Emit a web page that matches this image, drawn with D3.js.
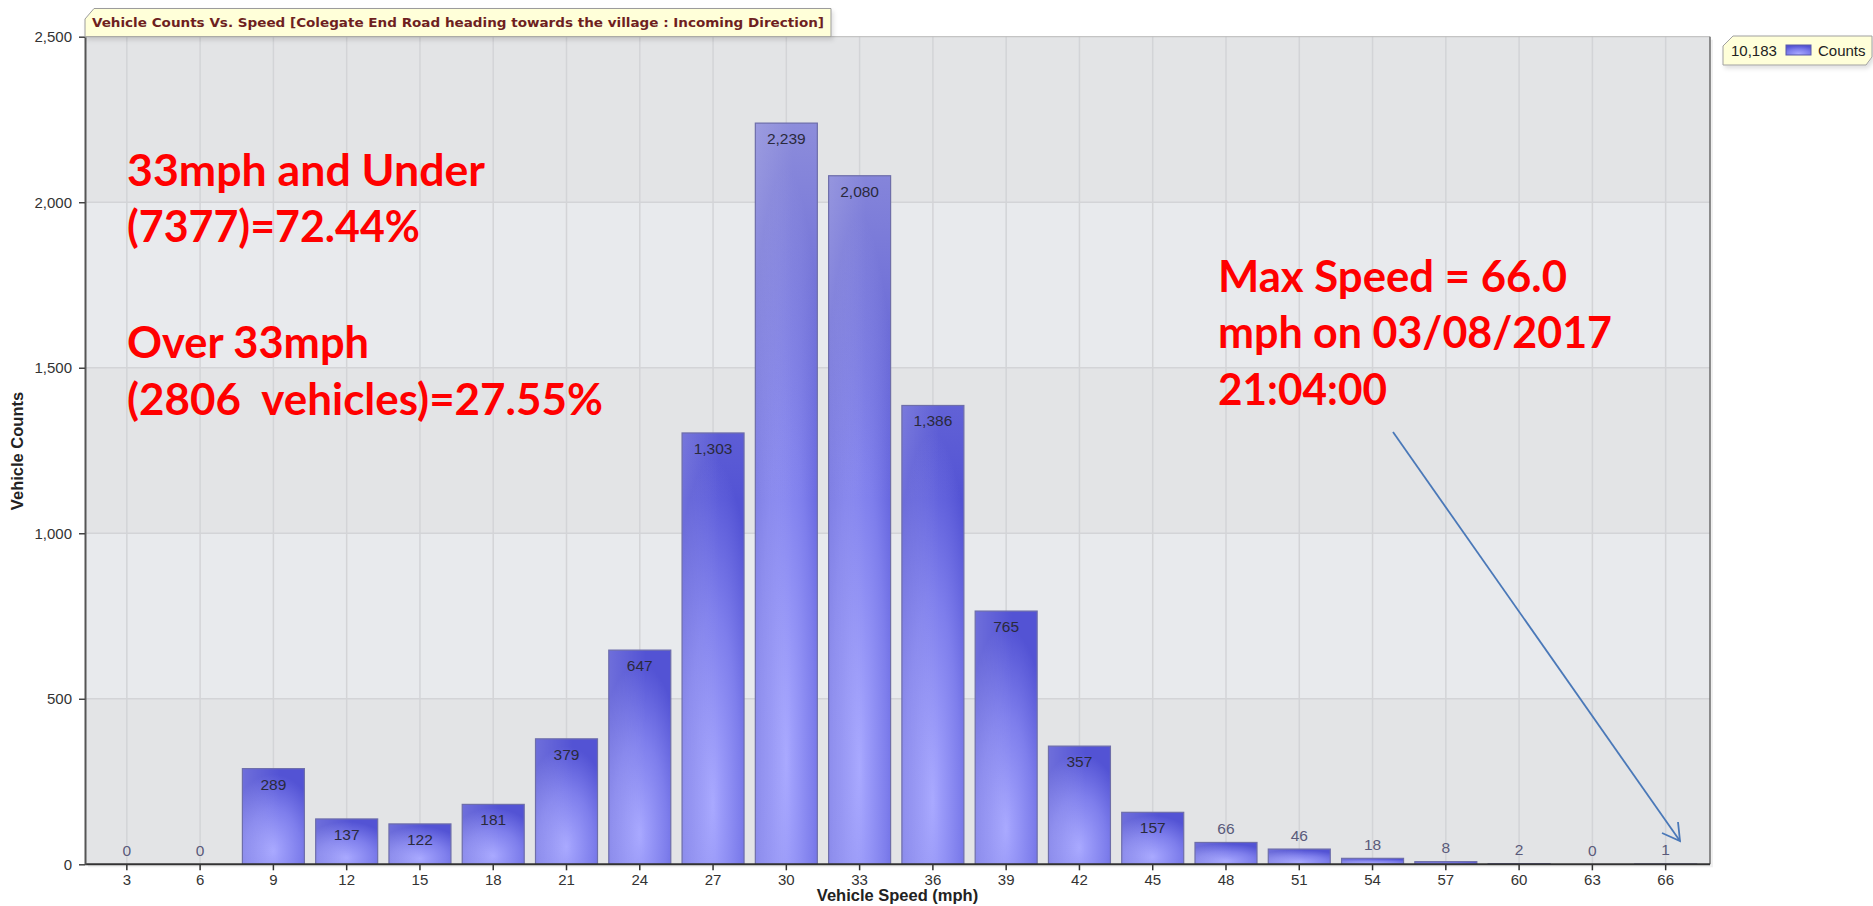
<!DOCTYPE html>
<html>
<head>
<meta charset="utf-8">
<script src="https://cdn.jsdelivr.net/npm/d3@7"></script>
<style>
  html, body { margin: 0; padding: 0; background: #ffffff; }
  svg { display: block; }
  text { white-space: pre; }
</style>
</head>
<body>
<svg id="chart" width="1873" height="906"></svg>
<script>
// ---- data ----
const speeds = [3, 6, 9, 12, 15, 18, 21, 24, 27, 30, 33, 36, 39, 42, 45, 48, 51, 54, 57, 60, 63, 66];
const counts = [0, 0, 289, 137, 122, 181, 379, 647, 1303, 2239, 2080, 1386, 765, 357, 157, 66, 46, 18, 8, 2, 0, 1];
const yTicks = [0, 500, 1000, 1500, 2000, 2500];
const titleText = "Vehicle Counts Vs. Speed [Colegate End Road heading towards the village : Incoming Direction]";
const legendTotal = "10,183";
const legendLabel = "Counts";
const xAxisTitle = "Vehicle Speed (mph)";
const yAxisTitle = "Vehicle Counts";
const noteLeft = ["33mph and Under", "(7377)=72.44%", "", "Over 33mph", "(2806  vehicles)=27.55%"];
const noteRight = ["Max Speed = 66.0", "mph on 03/08/2017", "21:04:00"];

// ---- layout ----
const plot = { left: 85, right: 1710, top: 36.7, bottom: 864.3 };
const svg = d3.select("#chart");
const fmt = d3.format(",");

const x = d3.scaleBand()
  .domain(speeds)
  .range([90.2, 1702.3])
  .paddingInner(0.154)
  .paddingOuter(0.077);
const y = d3.scaleLinear().domain([0, 2500]).range([plot.bottom, plot.top]);

// ---- defs ----
const defs = svg.append("defs");
const rg = defs.append("radialGradient").attr("id", "barGrad")
  .attr("cx", 0.5).attr("cy", 0.86).attr("r", 0.8).attr("fx", 0.5).attr("fy", 0.86);
rg.append("stop").attr("offset", 0).attr("stop-color", "#a7a7ff");
rg.append("stop").attr("offset", 0.55).attr("stop-color", "#7e7eec");
rg.append("stop").attr("offset", 1).attr("stop-color", "#5353d4");

const topGloss = defs.append("linearGradient").attr("id", "topGloss")
  .attr("gradientUnits", "userSpaceOnUse")
  .attr("x1", 0).attr("x2", 0).attr("y1", y(2500)).attr("y2", y(1100));
topGloss.append("stop").attr("offset", 0).attr("stop-color", "#d4d4e4").attr("stop-opacity", 0.55);
topGloss.append("stop").attr("offset", 1).attr("stop-color", "#d4d4e4").attr("stop-opacity", 0);

const leftGloss = defs.append("linearGradient").attr("id", "leftGloss")
  .attr("x1", 0).attr("x2", 1).attr("y1", 0).attr("y2", 0);
leftGloss.append("stop").attr("offset", 0).attr("stop-color", "#ffffff").attr("stop-opacity", 0.16);
leftGloss.append("stop").attr("offset", 0.6).attr("stop-color", "#ffffff").attr("stop-opacity", 0);

const shadow = defs.append("filter").attr("id", "shadow")
  .attr("x", "-5%").attr("y", "-20%").attr("width", "115%").attr("height", "160%");
shadow.append("feDropShadow").attr("dx", 2).attr("dy", 3).attr("stdDeviation", 2)
  .attr("flood-color", "#000").attr("flood-opacity", 0.12);

// ---- plot background ----
svg.append("rect")
  .attr("x", plot.left + 3).attr("y", plot.top + 3)
  .attr("width", plot.right - plot.left).attr("height", plot.bottom - plot.top)
  .attr("fill", "#f0f0f0");

const bands = d3.pairs(yTicks);
svg.append("g").selectAll("rect").data(bands).join("rect")
  .attr("x", plot.left)
  .attr("width", plot.right - plot.left)
  .attr("y", d => y(d[1]))
  .attr("height", d => y(d[0]) - y(d[1]))
  .attr("fill", (d, i) => i % 2 === 0 ? "#e3e4e6" : "#e8eaed");

// grid
const grid = svg.append("g");
grid.selectAll("line.h").data(yTicks.slice(1, -1)).join("line")
  .attr("x1", plot.left).attr("x2", plot.right)
  .attr("y1", d => y(d)).attr("y2", d => y(d))
  .attr("stroke", "#d3d4d7").attr("stroke-width", 1.5);
grid.selectAll("line.v").data(speeds).join("line")
  .attr("y1", plot.top).attr("y2", plot.bottom)
  .attr("x1", d => x(d) + x.bandwidth() / 2).attr("x2", d => x(d) + x.bandwidth() / 2)
  .attr("stroke", "#d3d4d7").attr("stroke-width", 1.5);

// plot frame (top & right)
svg.append("line").attr("x1", plot.left).attr("x2", plot.right).attr("y1", plot.top).attr("y2", plot.top)
  .attr("stroke", "#b8b8b8").attr("stroke-width", 1);
svg.append("line").attr("x1", plot.right).attr("x2", plot.right).attr("y1", plot.top).attr("y2", plot.bottom)
  .attr("stroke", "#6c6c6c").attr("stroke-width", 1.5);

// ---- bars ----
const data = speeds.map((s, i) => ({ s, v: counts[i] }));
const barG = svg.append("g");
const nz = data.filter(d => d.v > 0);
barG.selectAll("rect.bar").data(nz).join("rect")
  .attr("class", "bar")
  .attr("x", d => x(d.s)).attr("width", x.bandwidth())
  .attr("y", d => y(d.v)).attr("height", d => y(0) - y(d.v))
  .attr("fill", "url(#barGrad)");
barG.selectAll("rect.gl").data(nz).join("rect")
  .attr("class", "gl")
  .attr("x", d => x(d.s)).attr("width", x.bandwidth())
  .attr("y", d => y(d.v)).attr("height", d => y(0) - y(d.v))
  .attr("fill", "url(#leftGloss)");
barG.selectAll("rect.tg").data(nz).join("rect")
  .attr("class", "tg")
  .attr("x", d => x(d.s)).attr("width", x.bandwidth())
  .attr("y", d => y(d.v)).attr("height", d => y(0) - y(d.v))
  .attr("fill", "url(#topGloss)")
  .attr("stroke", "#6e6eaa").attr("stroke-width", 1.2);

// value labels
const inside = d => (y(0) - y(d.v)) > 32;
svg.append("g").selectAll("text").data(data).join("text")
  .attr("x", d => x(d.s) + x.bandwidth() / 2)
  .attr("y", d => inside(d) ? y(d.v) + 21 : y(d.v) - 8.5)
  .attr("text-anchor", "middle")
  .attr("font-family", "Liberation Sans, Arial, sans-serif")
  .attr("font-size", 15.5)
  .attr("fill", d => inside(d) ? "#2a2a3c" : "#5a5a7a")
  .text(d => fmt(d.v));

// ---- axes ----
const xAxis = svg.append("g")
  .attr("transform", `translate(0,${plot.bottom})`)
  .call(d3.axisBottom(x).tickSize(6).tickPadding(4).tickSizeOuter(0));
xAxis.select(".domain").attr("d", `M${plot.left},0H${plot.right}`).attr("stroke", "#333").attr("stroke-width", 2);
xAxis.selectAll(".tick line").attr("stroke", "#333").attr("stroke-width", 1.5);
xAxis.selectAll(".tick text").attr("font-family", "Liberation Sans, Arial, sans-serif")
  .attr("font-size", 15).attr("fill", "#333");

const yAxis = svg.append("g")
  .attr("transform", `translate(${plot.left},0)`)
  .call(d3.axisLeft(y).tickValues(yTicks).tickFormat(fmt).tickSize(6).tickPadding(7).tickSizeOuter(0));
yAxis.select(".domain").attr("stroke", "#555").attr("stroke-width", 2);
yAxis.selectAll(".tick line").attr("stroke", "#444").attr("stroke-width", 1.5);
yAxis.selectAll(".tick text").attr("font-family", "Liberation Sans, Arial, sans-serif")
  .attr("font-size", 15).attr("fill", "#333");

// axis titles
svg.append("text")
  .attr("x", (plot.left + plot.right) / 2).attr("y", 901)
  .attr("text-anchor", "middle")
  .attr("font-family", "Liberation Sans, Arial, sans-serif")
  .attr("font-size", 16.5).attr("font-weight", "bold").attr("fill", "#222")
  .text(xAxisTitle);
svg.append("text")
  .attr("transform", "translate(23,451) rotate(-90)")
  .attr("text-anchor", "middle")
  .attr("font-family", "Liberation Sans, Arial, sans-serif")
  .attr("font-size", 16.5).attr("font-weight", "bold").attr("fill", "#222")
  .text(yAxisTitle);

// ---- title tab ----
svg.append("path")
  .attr("d", `M${plot.left},${plot.top} L${plot.left},19 L${plot.left + 9},8.5 L831,8.5 L831,${plot.top} Z`)
  .attr("fill", "#ffffd9").attr("stroke", "#9c9c9c").attr("stroke-width", 1)
  .attr("filter", "url(#shadow)");
svg.append("text")
  .attr("x", 92).attr("y", 26.5)
  .attr("font-family", "DejaVu Sans Condensed, DejaVu Sans, sans-serif")
  .attr("font-size", 13).attr("font-weight", "bold").attr("fill", "#6e1f1f")
  .attr("textLength", 732).attr("lengthAdjust", "spacingAndGlyphs")
  .text(titleText);

// ---- legend ----
svg.append("path")
  .attr("d", "M1723,46 L1733,36 L1872,36 L1872,57 L1866,65 L1723,65 Z")
  .attr("fill", "#ffffd9").attr("stroke", "#a0a0a0").attr("stroke-width", 1)
  .attr("filter", "url(#shadow)");
svg.append("text").attr("x", 1731).attr("y", 55.5)
  .attr("font-family", "Liberation Sans, Arial, sans-serif").attr("font-size", 15).attr("fill", "#222")
  .text(legendTotal);
svg.append("rect").attr("x", 1786).attr("y", 45).attr("width", 25).attr("height", 10)
  .attr("fill", "url(#barGrad)").attr("stroke", "#5a5aa8").attr("stroke-width", 1);
svg.append("text").attr("x", 1818).attr("y", 55.5)
  .attr("font-family", "Liberation Sans, Arial, sans-serif").attr("font-size", 15).attr("fill", "#222")
  .text(legendLabel);

// ---- annotations ----
const noteFont = "Lato, Open Sans, sans-serif";
const leftBase = [186, 242, 0, 358, 415];
const leftW = [358, 293, 0, 242, 476];
noteLeft.forEach((t, i) => {
  if (!t) return;
  svg.append("text").attr("x", 127).attr("y", leftBase[i])
    .attr("xml:space", "preserve")
    .attr("font-family", noteFont).attr("font-size", 43).attr("font-weight", 700)
    .attr("fill", "#ff0000")
    .attr("textLength", leftW[i]).attr("lengthAdjust", "spacingAndGlyphs")
    .text(t);
});
const rightBase = [292, 348, 405];
const rightW = [349, 394, 169];
noteRight.forEach((t, i) => {
  svg.append("text").attr("x", 1218).attr("y", rightBase[i])
    .attr("font-family", noteFont).attr("font-size", 43).attr("font-weight", 700)
    .attr("fill", "#ff0000")
    .attr("textLength", rightW[i]).attr("lengthAdjust", "spacingAndGlyphs")
    .text(t);
});

// arrow
const arrowColor = "#4a78b8";
svg.append("line").attr("x1", 1393).attr("y1", 432).attr("x2", 1680).attr("y2", 841)
  .attr("stroke", arrowColor).attr("stroke-width", 1.8);
svg.append("path").attr("d", "M1678,822 L1680,841 L1662,833")
  .attr("fill", "none").attr("stroke", arrowColor).attr("stroke-width", 1.8);
</script>
</body>
</html>
